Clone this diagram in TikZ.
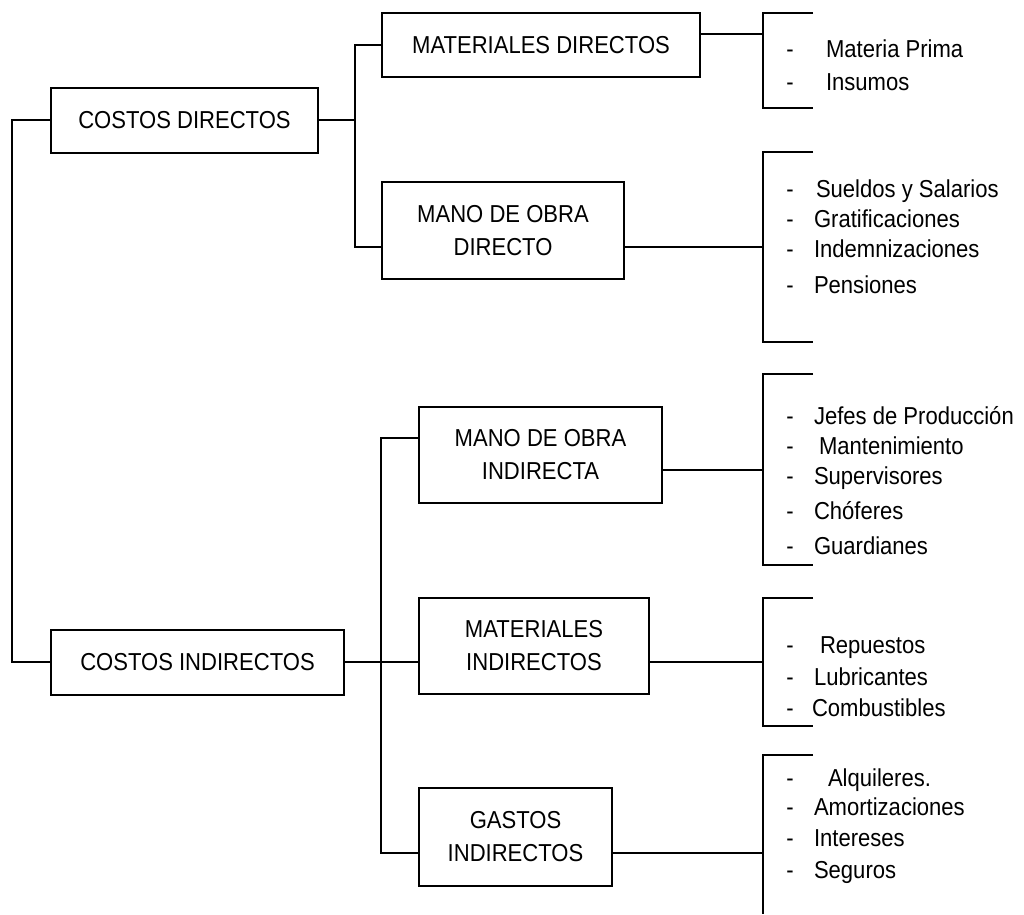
\documentclass[tikz,border=0pt]{standalone}
\usepackage{fontspec}
\setmainfont{Liberation Sans}
\newfontfamily\pixfont[FakeStretch=0.9]{Liberation Sans}
\newcommand\itemline[4]{%
  \node[dsh] (d#1) at (790,#3+9) {-};
  \node[itm] (t#1) at (#2,#3+9) {#4};}
\begin{document}
\begin{tikzpicture}[x=1pt,y=-1pt,line width=2pt,
  box/.style={draw,line width=2pt,inner sep=0pt,align=center,font=\pixfont\fontsize{24.5}{33}\selectfont},
  itm/.style={anchor=base west,inner sep=0pt,font=\pixfont\fontsize{24.5}{26}\selectfont},
  dsh/.style={anchor=base,inner sep=0pt,font=\pixfont\fontsize{24.5}{26}\selectfont}]
\useasboundingbox[fill=white] (0,0) rectangle (1024,914);

% boxes
\node[box,minimum width=267pt,minimum height=65pt] (cd) at (184.5,120) {COSTOS DIRECTOS};
\node[box,minimum width=293pt,minimum height=65pt] (ci) at (197.5,662) {COSTOS INDIRECTOS};
\node[box,minimum width=318pt,minimum height=64pt] (md) at (541,45) {MATERIALES DIRECTOS};
\node[box,minimum width=242pt,minimum height=97pt] (mod) at (503,230.5) {MANO DE OBRA\\DIRECTO};
\node[box,minimum width=243pt,minimum height=96pt] (moi) at (540.5,455) {MANO DE OBRA\\INDIRECTA};
\node[box,minimum width=230pt,minimum height=96pt] (mi) at (534,646) {MATERIALES\\INDIRECTOS};
\node[box,minimum width=193pt,minimum height=98pt] (gi) at (515.5,837) {GASTOS\\INDIRECTOS};

\coordinate (bus1) at (356,0);
\coordinate (bx) at (763,0);

% trunk
\draw (cd.west) -- ++(-38,0) |- (ci.west);
% direct branch
\draw (cd.east) -- (cd.east -| bus1);
\draw (md.west) -- ++(-26,0) |- ([yshift=-16.5pt]mod.west);
% indirect branch
\draw ([yshift=17pt]moi.west) -- ++(-37,0) |- ([yshift=-16pt]gi.west);
\draw (ci.east) -- ([yshift=-16pt]mi.west);

% to brackets
\draw ([yshift=11pt]md.east) coordinate (s1) -- (s1 -| bx);
\draw ([yshift=-16.5pt]mod.east) coordinate (s2) -- (s2 -| bx);
\draw ([yshift=-15pt]moi.east) coordinate (s3) -- (s3 -| bx);
\draw ([yshift=-16pt]mi.east) coordinate (s4) -- (s4 -| bx);
\draw ([yshift=-16pt]gi.east) coordinate (s5) -- (s5 -| bx);

% brackets
\draw (813,13) -- (763,13) -- (763,108) -- (813,108);
\draw (813,152) -- (763,152) -- (763,342) -- (813,342);
\draw (813,374) -- (763,374) -- (763,565) -- (813,565);
\draw (813,598) -- (763,598) -- (763,726) -- (813,726);
\draw (813,755) -- (763,755) -- (763,914);

% items
\itemline{a1}{825}{48}{Materia Prima}
\itemline{a2}{825}{81}{Insumos}
\itemline{b1}{815}{188}{Sueldos y Salarios}
\itemline{b2}{813}{218}{Gratificaciones}
\itemline{b3}{813}{248}{Indemnizaciones}
\itemline{b4}{813}{284}{Pensiones}
\itemline{c1}{813}{415}{Jefes de Producción}
\itemline{c2}{818}{445}{Mantenimiento}
\itemline{c3}{813}{475}{Supervisores}
\itemline{c4}{813}{510}{Chóferes}
\itemline{c5}{813}{545}{Guardianes}
\itemline{e1}{819}{644}{Repuestos}
\itemline{e2}{813}{676}{Lubricantes}
\itemline{e3}{811}{707}{Combustibles}
\itemline{f1}{827}{777}{Alquileres.}
\itemline{f2}{813}{806}{Amortizaciones}
\itemline{f3}{813}{837}{Intereses}
\itemline{f4}{813}{869}{Seguros}
\end{tikzpicture}
\end{document}
